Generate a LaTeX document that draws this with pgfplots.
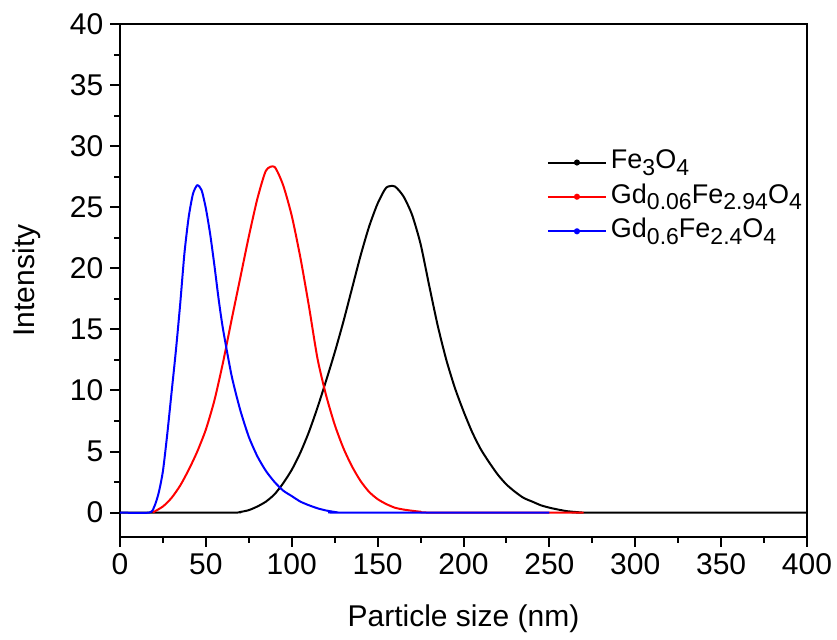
\documentclass[border=0pt]{standalone}
\usepackage{fontspec}
\setmainfont{Liberation Sans}
\usepackage{pgfplots}
\pgfplotsset{compat=1.18}
\newcommand{\sub}[1]{\raisebox{-3.3pt}{\fontsize{11.5}{13}\selectfont #1}}

\begin{document}
\begin{tikzpicture}
\useasboundingbox (-60pt,-51pt) rectangle (358.5pt,268.5pt);
\begin{axis}[
  at={(0,0)}, anchor=south west,
  scale only axis,
  width=343.5pt, height=256.5pt,
  xmin=0, xmax=400, ymin=-2, ymax=40,
  xtick={0,50,...,400}, ytick={0,5,...,40},
  minor x tick num=1, minor y tick num=1,
  tick align=outside,
  xtick pos=bottom, ytick pos=left,
  major tick length=4.8pt, minor tick length=2.8pt,
  every tick/.style={black, line width=1pt},
  axis line style={line width=1pt},
  /pgf/number format/assume math mode=true,
  ticklabel style={font=\fontsize{15}{17}\selectfont},
  label style={font=\fontsize{15}{17}\selectfont},
  xlabel={Particle size (nm)},
  ylabel={Intensity},
  xlabel style={yshift=-8pt},
  ylabel style={yshift=8pt},
  legend style={draw=none, fill=none, at={(0.6215,0.763)}, anchor=north west,
    font=\fontsize{13.5}{16}\selectfont, row sep=2pt,
    inner sep=0pt, outer sep=0pt,
    nodes={inner sep=2pt}},
  legend cell align=left,
  legend image code/.code={
    \draw[#1] (0pt,-1pt) -- (29pt,-1pt);
    \fill[#1] (14.5pt,-1pt) circle (1pt);},
  every axis plot/.append style={line width=1pt},
]
% Fe3O4
\addplot[black, smooth, tension=0.4, forget plot] coordinates {
(0,0) (65,0) (70,0.05) (75,0.2) (80,0.5) (85,0.9) (90,1.5) (95,2.4) (100,3.5)
(105,4.9) (110,6.6) (115,8.6) (120,10.8) (125,13.1) (130,15.6) (135,18.3)
(140,21.0) (145,23.4) (150,25.3) (155,26.6) (160,26.7) (165,25.9)
(170,24.4) (175,22.0) (180,18.6) (185,15.3) (190,12.5) (195,10.2) (200,8.3)
(205,6.6) (210,5.2) (215,4.1) (220,3.1) (225,2.3) (230,1.7) (235,1.2)
(240,0.9) (245,0.6) (250,0.4) (255,0.25) (260,0.12) (265,0.05) (272,0) (400,0)
};
% Gd0.06Fe2.94O4
\addplot[red, smooth, tension=0.4, forget plot] coordinates {
(19,0) (25,0.5) (30,1.2) (35,2.2) (40,3.5) (45,5.0) (50,6.8) (55,9.2)
(60,12.3) (65,15.8) (70,19.2) (75,22.6) (80,25.7) (85,28.0) (90,28.3)
(95,26.8) (100,24.3) (105,20.9) (110,16.9) (115,12.6) (120,9.6)
(125,7.2) (130,5.3) (135,3.8) (140,2.6) (145,1.7) (150,1.1) (155,0.7)
(160,0.4) (165,0.25) (170,0.15) (175,0.07) (182,0) (270,0)
};
% Gd0.6Fe2.4O4
\addplot[blue, smooth, tension=0.4, forget plot] coordinates {
(0,0) (17,0) (20,0.5) (22.5,1.6) (25,3.4) (27.5,6.4) (30,9.8) (32.5,13.2)
(35,17.0) (37.5,21.2) (40,24.2) (42.5,26.1) (45,26.8) (47.5,26.4) (50,24.9)
(52.5,22.8) (55,20.2) (57.5,17.4) (60,15.0) (65,11.2) (70,8.4) (75,6.2) (80,4.6)
(85,3.4) (90,2.5) (95,1.8) (100,1.35) (105,0.9) (110,0.6) (115,0.35)
(120,0.17) (125,0.05) (128,0) (250,0)
};
\addlegendimage{black}
\addlegendentry{Fe\sub{3}O\sub{4}}
\addlegendimage{red}
\addlegendentry{Gd\sub{0.06}Fe\sub{2.94}O\sub{4}}
\addlegendimage{blue}
\addlegendentry{Gd\sub{0.6}Fe\sub{2.4}O\sub{4}}
\end{axis}
\end{tikzpicture}
\end{document}
